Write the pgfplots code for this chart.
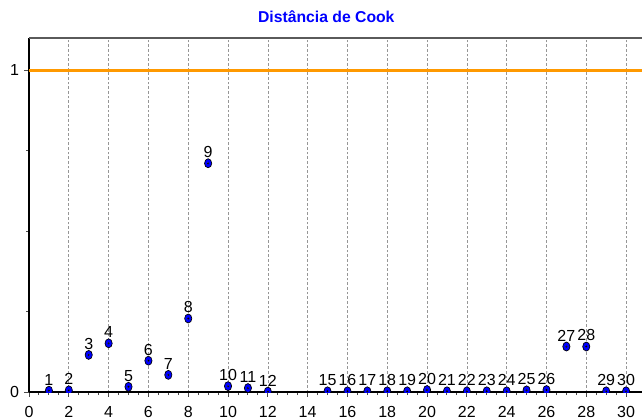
\documentclass[border=0pt]{standalone}
\usepackage{fontspec}
\setmainfont{Liberation Sans}
\usepackage{pgfplots}
\pgfplotsset{compat=1.18}
\definecolor{cookorange}{RGB}{255,153,0}
\definecolor{gridgray}{RGB}{150,150,150}
\definecolor{markblue}{RGB}{0,0,255}

\pgfplotstableread{
x y lab
1 0.005 1
2 0.006 2
3 0.116 3
4 0.152 4
5 0.017 5
6 0.098 6
7 0.054 7
8 0.229 8
9 0.711 9
10 0.019 10
11 0.013 11
12 0.002 12
15 0.003 15
16 0.003 16
17 0.003 17
18 0.003 18
19 0.003 19
20 0.007 20
21 0.003 21
22 0.003 22
23 0.003 23
24 0.003 24
25 0.006 25
26 0.007 26
27 0.142 27
28 0.142 28
29 0.003 29
30 0.003 30
}\cookdata

\begin{document}
\begin{tikzpicture}[x=1pt,y=1pt]
\useasboundingbox (-21.75,-20.8) rectangle (459.75,294.2);
\begin{axis}[
  at={(0,0)}, anchor=south west,
  scale only axis, width=459.75pt, height=265.7pt,
  xmin=0, xmax=30.8, ymin=0, ymax=1.1,
  axis x line*=bottom, axis y line*=left,
  axis line style={-, black, line width=1.5pt},
  tick align=outside, tick pos=left,
  major tick length=3.4pt, minor tick length=2.2pt,
  tick style={gridgray!50!black, line width=0.7pt},
  xtick={0,2,...,30}, minor x tick num=3,
  ytick={0,1}, minor ytick={0.25,0.5,0.75},
  xmajorgrids,
  grid style={gridgray, dash pattern=on 2pt off 1.5pt, line width=0.5pt},
  /pgf/number format/assume math mode=true,
  tick label style={font=\fontsize{12}{14}\selectfont},
  xticklabel style={yshift=-3.5pt},
  yticklabel style={xshift=-0.6pt},
  title={Distância de Cook},
  title style={font=\bfseries\fontsize{11.8}{13}\selectfont, color=markblue,
    at={(rel axis cs:0.485,1)}, anchor=base, yshift=5.25pt, inner sep=0pt},
  clip marker paths=true,
]
\addplot[cookorange, line width=2pt, forget plot] coordinates {(0,1) (30.8,1)};
\addplot[only marks, mark=*, mark size=2.7pt,
  mark options={yscale=1.25, fill=markblue, draw=black, line width=0.5pt},
  point meta=explicit symbolic,
  nodes near coords,
  every node near coord/.style={anchor=south, inner sep=0pt, yshift=3.8pt,
    font=\fontsize{12}{13}\selectfont, text=black}]
  table[x=x, y=y, meta=lab] {\cookdata};
\addplot[only marks, mark=*, mark size=0.55pt,
  mark options={fill=white, draw=none}, forget plot]
  table[x=x, y=y] {\cookdata};
\draw[gridgray!60!black, line width=1.1pt] (rel axis cs:0,1) -- (rel axis cs:1,1);
\end{axis}
\end{tikzpicture}
\end{document}
